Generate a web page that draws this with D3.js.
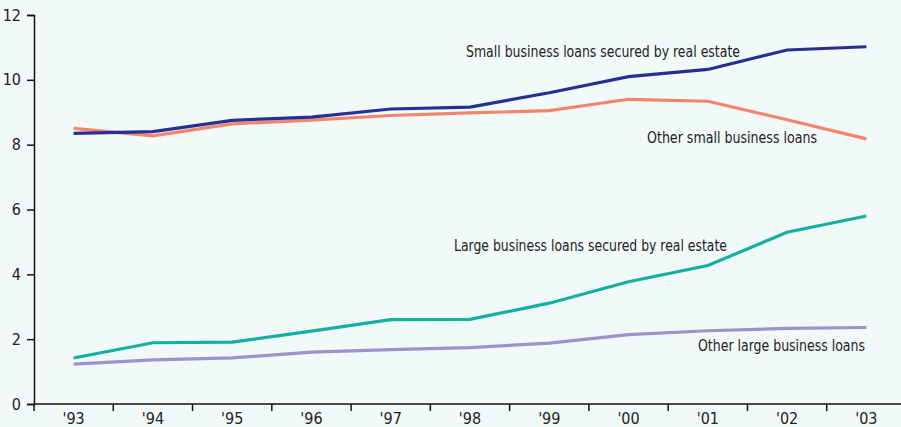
<!DOCTYPE html>
<html>
<head>
<meta charset="utf-8">
<script src="https://cdn.jsdelivr.net/npm/d3@7"></script>
<style>
  body { margin: 0; background: #f2f9f9; }
  svg { display: block; }
  text { font-family: "Liberation Sans Narrow", "DejaVu Sans Condensed", sans-serif; fill: #222; }
</style>
</head>
<body>
<div id="chart"></div>
<script>
var years = ["'93", "'94", "'95", "'96", "'97", "'98", "'99", "'00", "'01", "'02", "'03"];
var yTicks = [0, 2, 4, 6, 8, 10, 12];

var smallRealEstate = [8.35, 8.4, 8.75, 8.85, 9.1, 9.16, 9.6, 10.1, 10.32, 10.92, 11.02];
var otherSmall      = [8.5, 8.27, 8.64, 8.76, 8.9, 8.98, 9.05, 9.4, 9.34, 8.77, 8.18];
var largeRealEstate = [1.42, 1.89, 1.91, 2.25, 2.6, 2.61, 3.11, 3.77, 4.27, 5.3, 5.8];
var otherLarge      = [1.23, 1.36, 1.42, 1.6, 1.68, 1.74, 1.88, 2.14, 2.26, 2.33, 2.36];

var seriesNames = [
  "Small business loans secured by real estate",
  "Other small business loans",
  "Large business loans secured by real estate",
  "Other large business loans"
];
var seriesColors = ["#263092", "#f4846c", "#12b0a3", "#9a93cc"];

var width = 901, height = 427;

var svg = d3.select("#chart").append("svg")
  .attr("width", width)
  .attr("height", height);

var x = d3.scaleBand()
  .domain(years)
  .range([34, 906]);

var y = d3.scaleLinear()
  .domain([0, 12])
  .range([404, 15]);

// y axis
var yAxis = svg.append("g")
  .attr("transform", "translate(34,0)")
  .call(d3.axisLeft(y).tickValues(yTicks).tickSize(7).tickPadding(6));
yAxis.select(".domain").attr("stroke", "#111").attr("stroke-width", 1.5);
yAxis.selectAll(".tick line").attr("stroke", "#111").attr("stroke-width", 1.5);
yAxis.selectAll(".tick text")
  .style("font-size", "16px")
  .style("font-family", "\"Liberation Sans Narrow\", \"DejaVu Sans Condensed\", sans-serif")
  .attr("fill", "#222");

// x axis: line plus ticks at band edges
var xg = svg.append("g");
xg.append("line")
  .attr("x1", 34).attr("x2", width)
  .attr("y1", y(0)).attr("y2", y(0))
  .attr("stroke", "#111").attr("stroke-width", 1.5);

xg.selectAll(".xtick")
  .data(years)
  .enter()
  .append("line")
  .attr("class", "xtick")
  .attr("x1", function(d) { return x(d); })
  .attr("x2", function(d) { return x(d); })
  .attr("y1", y(0))
  .attr("y2", y(0) + 7)
  .attr("stroke", "#111").attr("stroke-width", 1.5);

xg.selectAll(".xlabel")
  .data(years)
  .enter()
  .append("text")
  .attr("class", "xlabel")
  .attr("x", function(d) { return x(d) + x.bandwidth() / 2; })
  .attr("y", 424)
  .attr("text-anchor", "middle")
  .style("font-size", "16px")
  .text(function(d) { return d; });

// lines
var line = d3.line()
  .x(function(d, i) { return x(years[i]) + x.bandwidth() / 2; })
  .y(function(d) { return y(d); });

var allSeries = [otherSmall, smallRealEstate, otherLarge, largeRealEstate];
var allColors = [seriesColors[1], seriesColors[0], seriesColors[3], seriesColors[2]];

svg.selectAll(".series")
  .data(allSeries)
  .enter()
  .append("path")
  .attr("class", "series")
  .attr("d", line)
  .attr("fill", "none")
  .attr("stroke", function(d, i) { return allColors[i]; })
  .attr("stroke-width", 3.2);

// labels (squeezed to the condensed width of the original)
var labelPos = [
  { x: 466, y: 57, w: 274 },
  { x: 647, y: 143, w: 170 },
  { x: 454, y: 251, w: 273 },
  { x: 698, y: 351, w: 167 }
];

svg.selectAll(".slabel")
  .data(seriesNames)
  .enter()
  .append("text")
  .attr("class", "slabel")
  .attr("x", function(d, i) { return labelPos[i].x; })
  .attr("y", function(d, i) { return labelPos[i].y; })
  .attr("textLength", function(d, i) { return labelPos[i].w; })
  .attr("lengthAdjust", "spacingAndGlyphs")
  .style("font-size", "16px")
  .text(function(d) { return d; });
</script>
</body>
</html>
